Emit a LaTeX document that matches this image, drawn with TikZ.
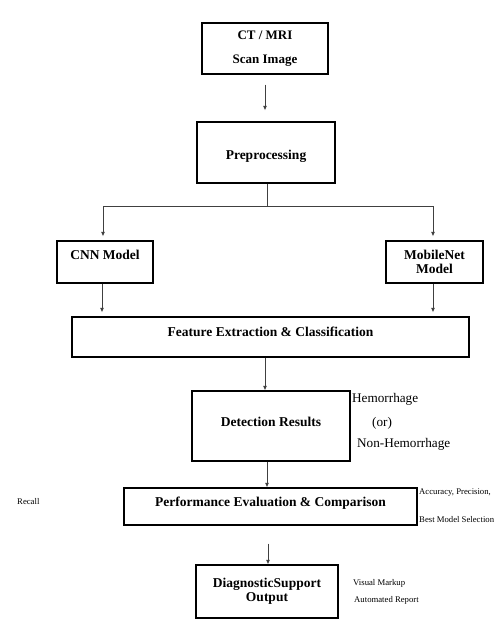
\documentclass[tikz,border=0pt]{standalone}
\usepackage{fontspec}
\setmainfont{Liberation Serif}
\usetikzlibrary{arrows.meta,calc}
\begin{document}
\begin{tikzpicture}[x=1pt,y=-1pt,
  box/.style={draw=black, line width=1.2pt, inner sep=0pt, font=\fontsize{13.5}{14}\selectfont\bfseries, align=center},
  conn/.style={draw=black!75, line width=0.9pt, -{Latex[length=4.5pt,width=4pt]}},
  plainline/.style={draw=black!75, line width=0.9pt},
  note/.style={inner sep=0pt, anchor=west, font=\fontsize{13.2}{14}\selectfont},
  small/.style={inner sep=0pt, anchor=west, font=\fontsize{8.7}{10}\selectfont}]
\useasboundingbox (0,0) rectangle (497,619);
\fill[white] (0,0) rectangle (497,619);

\node[box, minimum width=126pt, minimum height=51pt, font=\fontsize{13}{24}\selectfont\bfseries] (ct) at (265,48.5) {CT / MRI\\Scan Image};
\node[box, minimum width=138pt, minimum height=61pt, text height=14pt, text depth=0pt] (pre) at (266,152.5) {Preprocessing};
\node[box, minimum width=96pt, minimum height=42pt, text height=9.5pt, text depth=14.5pt] (cnn) at (105,262) {CNN Model};
\node[box, minimum width=97pt, minimum height=42pt] (mob) at (434.5,262) {MobileNet\\Model};
\node[box, minimum width=397pt, minimum height=40pt, text height=9.5pt, text depth=10.5pt] (feat) at (270.5,337) {Feature Extraction \& Classification};
\node[box, minimum width=158pt, minimum height=70pt, text height=9.5pt, text depth=8.5pt] (det) at (271,426) {Detection Results};
\node[box, minimum width=293pt, minimum height=37pt, text height=9.5pt, text depth=9.5pt] (perf) at (270.5,506.5) {Performance Evaluation \& Comparison};
\node[box, minimum width=142pt, minimum height=53pt] (diag) at (267,591.5) {DiagnosticSupport\\Output};

\coordinate (j) at (267,206);

\draw[conn] ([yshift=-10pt]ct.south) -- ([yshift=11pt]pre.north -| ct.south);
\draw[plainline] (pre.south -| j) -- (j);
\draw[conn] (j) -| ([xshift=-2pt,yshift=4pt]cnn.north);
\draw[conn] (j) -| ([xshift=-1.5pt,yshift=4pt]mob.north);
\draw[conn] ([xshift=-3pt]cnn.south) -- ([xshift=-3pt,yshift=4pt]cnn.south |- feat.north);
\draw[conn] ([xshift=-1.5pt]mob.south) -- ([xshift=-1.5pt,yshift=4pt]mob.south |- feat.north);
\draw[conn] ([xshift=-5.5pt]feat.south) -- ([xshift=-5.5pt]feat.south |- det.north);
\draw[conn] ([xshift=-4pt]det.south) -- ([xshift=-4pt]det.south |- perf.north);
\draw[conn] ([xshift=-2.5pt,yshift=-18pt]perf.south) -- ([xshift=-2.5pt]perf.south |- diag.north);

\node[note] (hem) at (352,399) {Hemorrhage};
\node[note, anchor=center] (or) at (382,423) {(or)};
\node[note] (nonhem) at (357,444) {Non-Hemorrhage};
\node[small] (rec) at (17,502) {Recall};
\node[small] (acc) at (419,493) {Accuracy, Precision,};
\node[small] (best) at (419,520) {Best Model Selection};
\node[small] (vis) at (353,583) {Visual Markup};
\node[small] (aut) at (354,600) {Automated Report};
\end{tikzpicture}
\end{document}
